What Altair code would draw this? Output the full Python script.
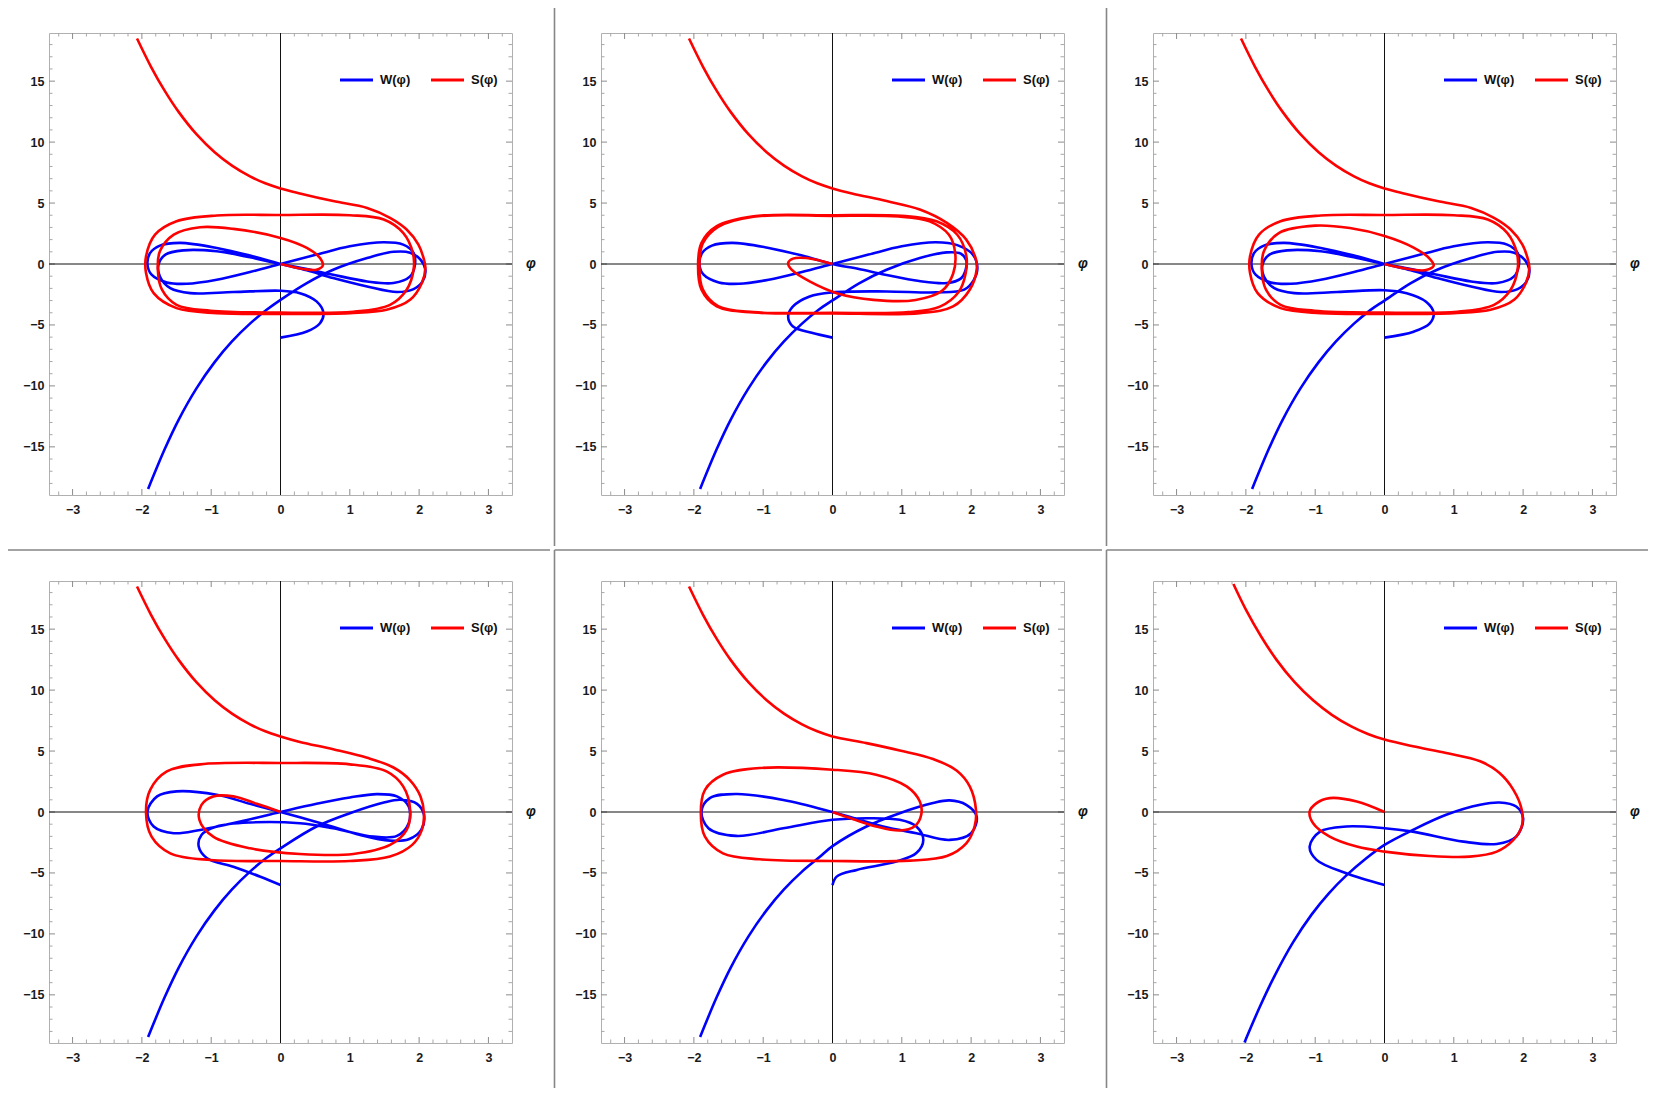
import altair as alt
import pandas as pd

# ---------------- data ----------------
TAIL_S_X = [-2.07, -1.87, -1.67, -1.47, -1.21, -0.95, -0.70, -0.44, -0.22, 0.0]
TAIL_S_Y = [18.5, 16.2, 14.2, 12.48, 10.63, 9.17, 8.07, 7.19, 6.62, 6.2]
TAIL_W_X = [-1.91, -1.67, -1.47, -1.21, -0.95, -0.70, -0.44, -0.2]
TAIL_W_Y = [-18.45, -15.18, -12.78, -10.18, -8.05, -6.35, -4.89, -3.76]

P1_SX = [0.28, 0.76, 1.25, 1.58, 1.82, 1.99, 2.07, 2.09, 2.04, 1.87, 1.53, 1.0, 0.0, -0.92, -1.5, -1.83, -1.94, -1.94, -1.81, -1.5,
         -0.92, 0.0, 1.0, 1.49, 1.77, 1.91, 1.92, 1.82, 1.58, 1.05, 0.0, -1.01, -1.5, -1.71, -1.77, -1.74, -1.54, -1.16, -0.68, 0.0,
         0.38, 0.57, 0.61, 0.52, 0.33, 0.14, 0.0]
P1_SY = [5.79, 5.16, 4.6, 3.79, 2.83, 1.59, 0.36, -0.33, -1.56, -2.94, -3.76, -4.03, -4.09, -4.03, -3.62, -2.39, -0.74, 0.63, 2.41, 3.51,
         3.98, 4.02, 4.0, 3.65, 2.55, 0.9, -0.47, -2.11, -3.35, -3.92, -3.98, -3.84, -3.35, -2.11, -0.47, 1.04, 2.41, 3.02, 2.88, 2.14,
         1.32, 0.49, -0.14, -0.47, -0.41, -0.19, 0.0]
P1_WX = [0.0, 0.38, 0.76, 1.25, 1.63, 1.87, 2.02, 2.09, 2.05, 1.92, 1.68, 1.25, 0.76, 0.38, 0.0, -0.44, -0.92, -1.45, -1.74, -1.88,
         -1.92, -1.86, -1.64, -1.35, -0.92, -0.44, 0.0, 0.52, 1.0, 1.49, 1.77, 1.92, 1.94, 1.87, 1.63, 1.25, 0.76, 0.38, 0.0, -0.44,
         -0.92, -1.4, -1.66, -1.76, -1.74, -1.59, -1.3, -0.68, 0.0, 0.28, 0.52, 0.62, 0.57, 0.38, 0.0]
P1_WY = [-2.94, -1.56, -0.47, 0.49, 1.0, 0.93, 0.36, -0.47, -1.43, -2.06, -2.3, -1.84, -1.15, -0.52, 0.0, 0.69, 1.32, 1.73, 1.51, 0.91,
         0.0, -0.88, -1.51, -1.62, -1.29, -0.66, 0.0, 0.77, 1.45, 1.78, 1.59, 0.91, -0.05, -1.02, -1.56, -1.43, -0.88, -0.41, 0.0, 0.55,
         1.04, 1.12, 0.77, -0.05, -1.02, -1.98, -2.39, -2.3, -2.19, -2.39, -3.07, -4.03, -4.86, -5.54, -6.04]

P2_SX = [0.28, 0.78, 1.26, 1.65, 1.93, 2.07, 2.08, 1.98, 1.74, 1.26, 0.0, -1.14, -1.67, -1.89, -1.94, -1.89, -1.67, -1.14, 0.0, 1.0,
         1.5, 1.8, 1.93, 1.92, 1.82, 1.55, 1.1, 0.0, -1.14, -1.65, -1.87, -1.92, -1.87, -1.65, -1.14, 0.0, 0.95, 1.4, 1.68, 1.77,
         1.74, 1.58, 1.2, 0.59, 0.06, -0.33, -0.59, -0.64, -0.57, -0.38, -0.18, 0.0]
P2_SY = [5.79, 5.16, 4.47, 3.37, 2.0, 0.36, -0.47, -2.11, -3.48, -4.03, -4.05, -3.98, -3.48, -2.11, -0.19, 1.73, 3.1, 3.92, 4.0, 3.95,
         3.5, 2.4, 0.7, -0.8, -2.3, -3.5, -3.95, -4.0, -3.95, -3.45, -2.1, -0.2, 1.7, 3.05, 3.88, 3.95, 3.9, 3.5, 2.4, 0.9,
         -0.8, -2.2, -2.95, -2.94, -2.39, -1.43, -0.47, 0.08, 0.44, 0.49, 0.27, 0.0]
P2_WX = [0.0, 0.39, 0.78, 1.26, 1.65, 1.85, 1.93, 1.92, 1.85, 1.65, 1.25, 0.76, 0.38, 0.0, -0.44, -0.92, -1.45, -1.74, -1.88, -1.92,
         -1.86, -1.64, -1.35, -0.92, -0.44, 0.0, 0.52, 1.0, 1.49, 1.8, 2.02, 2.09, 2.04, 1.9, 1.5, 0.78, 0.0, -0.33, -0.57, -0.64,
         -0.57, -0.3, 0.0]
P2_WY = [-2.99, -1.56, -0.47, 0.49, 0.95, 0.85, 0.3, -0.5, -1.2, -1.56, -1.4, -0.88, -0.41, 0.0, 0.69, 1.32, 1.73, 1.51, 0.91, 0.0,
         -0.88, -1.51, -1.62, -1.29, -0.66, 0.0, 0.77, 1.45, 1.78, 1.55, 0.8, -0.3, -1.3, -2.1, -2.33, -2.25, -2.33, -2.66, -3.48, -4.3,
         -5.13, -5.65, -6.04]

P3_SX = [0.28, 0.76, 1.25, 1.58, 1.82, 1.99, 2.07, 2.09, 2.04, 1.87, 1.53, 1.0, 0.0, -0.92, -1.5, -1.83, -1.94, -1.94, -1.81, -1.5,
         -0.92, 0.0, 1.0, 1.49, 1.77, 1.91, 1.92, 1.82, 1.58, 1.05, 0.0, -1.01, -1.5, -1.71, -1.77, -1.74, -1.52, -1.0, -0.5, 0.0,
         0.42, 0.65, 0.71, 0.6, 0.38, 0.15, 0.0]
P3_SY = [5.79, 5.16, 4.6, 3.79, 2.83, 1.59, 0.36, -0.33, -1.56, -2.94, -3.76, -4.03, -4.09, -4.03, -3.62, -2.39, -0.74, 0.63, 2.41, 3.51,
         3.98, 4.02, 4.0, 3.65, 2.55, 0.9, -0.47, -2.11, -3.35, -3.92, -3.98, -3.84, -3.35, -2.11, -0.47, 1.04, 2.55, 3.15, 2.95, 2.3,
         1.35, 0.45, -0.14, -0.5, -0.45, -0.2, 0.0]
P3_WX = [0.0, 0.38, 0.76, 1.25, 1.63, 1.87, 2.02, 2.09, 2.05, 1.92, 1.68, 1.25, 0.76, 0.38, 0.0, -0.44, -0.92, -1.45, -1.74, -1.88,
         -1.92, -1.86, -1.64, -1.35, -0.92, -0.44, 0.0, 0.52, 1.0, 1.49, 1.77, 1.92, 1.94, 1.87, 1.63, 1.25, 0.76, 0.38, 0.0, -0.44,
         -0.92, -1.4, -1.66, -1.76, -1.74, -1.59, -1.3, -0.68, 0.0, 0.32, 0.6, 0.71, 0.65, 0.42, 0.0]
P3_WY = [-3.0, -1.56, -0.47, 0.49, 1.0, 0.93, 0.36, -0.47, -1.43, -2.06, -2.3, -1.84, -1.15, -0.52, 0.0, 0.69, 1.32, 1.73, 1.51, 0.91,
         0.0, -0.88, -1.51, -1.62, -1.29, -0.66, 0.0, 0.77, 1.45, 1.78, 1.59, 0.91, -0.05, -1.02, -1.56, -1.43, -0.88, -0.41, 0.0, 0.55,
         1.04, 1.12, 0.77, -0.05, -1.02, -1.98, -2.39, -2.3, -2.15, -2.4, -3.1, -4.03, -4.9, -5.55, -6.04]

P4_SX = [0.28, 0.76, 1.25, 1.63, 1.87, 2.02, 2.07, 2.04, 1.9, 1.58, 1.0, 0.0, -1.01, -1.59, -1.86, -1.94, -1.88, -1.64, -1.16, 0.0,
         1.0, 1.53, 1.77, 1.87, 1.82, 1.58, 1.05, 0.28, -0.44, -0.97, -1.17, -1.14, -0.97, -0.68, -0.34, 0.0]
P4_SY = [5.75, 5.15, 4.45, 3.65, 2.6, 1.28, -0.1, -1.47, -2.7, -3.66, -4.02, -4.02, -3.94, -3.39, -2.02, -0.1, 1.82, 3.33, 3.91, 4.02,
         3.91, 3.33, 2.1, 0.18, -1.47, -2.7, -3.44, -3.44, -2.98, -2.02, -0.64, 0.59, 1.28, 1.28, 0.67, 0.0]
P4_WX = [0.0, 0.52, 1.0, 1.49, 1.73, 1.97, 2.07, 2.03, 1.85, 1.58, 1.15, 0.67, 0.28, 0.0, -0.44, -0.92, -1.5, -1.78, -1.92, -1.83,
         -1.54, -1.16, -0.58, 0.0, 0.52, 1.0, 1.39, 1.68, 1.85, 1.85, 1.68, 1.34, 0.76, 0.28, -0.44, -0.92, -1.14, -1.18, -1.06, -0.68,
         -0.29, 0.0]
P4_WY = [-2.98, -1.19, -0.1, 0.78, 1.0, 0.67, -0.23, -1.47, -2.24, -2.35, -1.88, -1.06, -0.43, 0.0, 0.67, 1.41, 1.69, 1.28, 0.04, -1.19,
         -1.74, -1.47, -0.78, 0.0, 0.67, 1.19, 1.47, 1.28, 0.45, -0.92, -1.96, -2.02, -1.33, -0.92, -0.86, -1.19, -1.88, -2.84, -3.8, -4.49,
         -5.31, -5.99]

P5_SX = [0.49, 0.97, 1.45, 1.79, 1.98, 2.07, 2.05, 1.93, 1.65, 1.12, 0.0, -1.05, -1.58, -1.84, -1.9, -1.84, -1.58, -1.05, 0.0, 0.63,
         1.07, 1.26, 1.28, 1.19, 0.97, 0.63, 0.3, 0.0]
P5_SY = [5.65, 5.05, 4.35, 3.4, 2.1, 0.18, -1.19, -2.57, -3.61, -3.99, -4.02, -3.88, -3.39, -2.02, -0.1, 1.82, 3.06, 3.61, 3.47, 3.06,
         2.1, 0.86, -0.23, -1.14, -1.52, -1.19, -0.59, 0.0]
P5_WX = [0.0, 0.49, 0.97, 1.45, 1.69, 1.93, 2.08, 2.0, 1.69, 1.21, 0.73, 0.0, -0.71, -1.39, -1.77, -1.89, -1.79, -1.39, -0.71, 0.0,
         0.49, 0.97, 1.21, 1.31, 1.21, 0.92, 0.35, 0.06, 0.0]
P5_WY = [-2.8, -1.19, -0.1, 0.73, 0.95, 0.59, -0.37, -1.74, -2.29, -1.74, -1.19, 0.0, 0.99, 1.48, 1.14, 0.04, -1.33, -1.96, -1.33, -0.64,
         -0.51, -0.64, -1.19, -2.29, -3.37, -4.07, -4.75, -5.3, -6.0]

P6_TAIL_SX = [-2.18, -2.0, -1.78, -1.56, -1.3, -1.03, -0.76, -0.48, -0.24, 0.0]
P6_TAIL_SY = [18.7, 16.6, 14.4, 12.5, 10.67, 9.16, 7.97, 7.02, 6.4, 5.94]
P6_SX = [0.41, 0.89, 1.38, 1.66, 1.86, 1.98, 1.98, 1.86, 1.62, 1.23, 0.65, 0.0, -0.4, -0.79, -1.03, -1.08, -0.98, -0.79, -0.4, 0.0]
P6_SY = [5.39, 4.84, 4.16, 3.2, 1.82, 0.18, -1.19, -2.29, -3.25, -3.66, -3.61, -3.25, -2.84, -2.02, -0.92, 0.04, 0.73, 1.14, 0.86, 0.0]
P6_TAIL_WX = [-2.02, -1.8, -1.58, -1.32, -1.05, -0.8, -0.55, -0.28]
P6_TAIL_WY = [-18.9, -16.0, -13.38, -10.7, -8.4, -6.65, -5.2, -3.88]
P6_WX = [0.0, 0.41, 0.89, 1.38, 1.66, 1.9, 2.0, 1.9, 1.62, 1.14, 0.41, 0.0, -0.55, -0.93, -1.08, -0.98, -0.55, 0.0]
P6_WY = [-2.7, -1.47, -0.23, 0.59, 0.78, 0.45, -0.51, -2.02, -2.62, -2.43, -1.61, -1.33, -1.19, -1.61, -2.84, -3.93, -5.03, -5.99]

X_MAJOR = [-3, -2, -1, 0, 1, 2, 3]
X_MINOR = [-3.2, -2.8, -2.6, -2.4, -2.2, -1.8, -1.6, -1.4, -1.2, -0.8, -0.6, -0.4, -0.2,
           0.2, 0.4, 0.6, 0.8, 1.2, 1.4, 1.6, 1.8, 2.2, 2.4, 2.6, 2.8, 3.2]
Y_MAJOR = [-15, -10, -5, 0, 5, 10, 15]
Y_MINOR = [-18, -17, -16, -14, -13, -12, -11, -9, -8, -7, -6, -4, -3, -2, -1,
           1, 2, 3, 4, 6, 7, 8, 9, 11, 12, 13, 14, 16, 17, 18]

LEGEND_LABELS = ["W(φ)", "S(φ)"]
# ----------------------------------------------------------------

W, H = 463, 462
XDOM = [-3.34, 3.34]
YDOM = [-18.95, 18.95]
BLUE, RED = "#0000ff", "#ff0000"
FONT = "Liberation Sans"
TICK_MAJ, TICK_MIN = "#8c8c8c", "#a8a8a8"
CELL_L, CELL_R, CELL_T, CELL_B = -48, 502.5, -32.5, 514.5


def panel(wx, wy, sx, sy):
    xs = alt.Scale(domain=XDOM, nice=False, zero=False)
    ys = alt.Scale(domain=YDOM, nice=False, zero=False)
    ax = alt.Axis(values=X_MAJOR, ticks=False, tickSize=0, domain=False, grid=False, labelFont=FONT,
                  labelFontSize=12.5, labelFontWeight="bold", labelColor="#1a1a1a", labelPadding=8, title=None)
    ay = alt.Axis(values=Y_MAJOR, ticks=False, tickSize=0, domain=False, grid=False, labelFont=FONT,
                  labelFontSize=12.5, labelFontWeight="bold", labelColor="#1a1a1a", labelPadding=5, title=None)

    def X():
        return alt.X("x:Q", scale=xs, axis=ax)

    def Y():
        return alt.Y("y:Q", scale=ys, axis=ay)

    one = pd.DataFrame({"a": [0]})
    layers = []
    # invisible cell box (sets the cell size) + visible left / top dividers
    layers.append(alt.Chart(one).mark_rect(fillOpacity=0, strokeOpacity=0).encode(
        x=alt.value(CELL_L), x2=alt.value(CELL_R), y=alt.value(CELL_T), y2=alt.value(CELL_B)))
    layers.append(alt.Chart(one).mark_rule(color="#858585", strokeWidth=1.6).encode(
        x=alt.value(CELL_L + 1.5), y=alt.value(CELL_T + 1.5), y2=alt.value(CELL_B - 1.5)))
    layers.append(alt.Chart(one).mark_rule(color="#858585", strokeWidth=1.6).encode(
        x=alt.value(CELL_L + 1.5), x2=alt.value(CELL_R - 1.5), y=alt.value(CELL_T + 1.5)))
    # frame ticks
    for vals, L, col in [(X_MAJOR, 6, TICK_MAJ), (X_MINOR, 3.5, TICK_MIN)]:
        d = pd.DataFrame({"x": vals})
        layers.append(alt.Chart(d).mark_rule(color=col, strokeWidth=1).encode(
            x=X(), y=alt.value(H), y2=alt.value(H - L)))
        layers.append(alt.Chart(d).mark_rule(color=col, strokeWidth=1).encode(
            x=X(), y=alt.value(0), y2=alt.value(L)))
    for vals, L, col in [(Y_MAJOR, 6, TICK_MAJ), (Y_MINOR, 3.5, TICK_MIN)]:
        d = pd.DataFrame({"y": vals})
        layers.append(alt.Chart(d).mark_rule(color=col, strokeWidth=1).encode(
            y=Y(), x=alt.value(0), x2=alt.value(L)))
        layers.append(alt.Chart(d).mark_rule(color=col, strokeWidth=1).encode(
            y=Y(), x=alt.value(W), x2=alt.value(W - L)))
    # axes through origin
    layers.append(alt.Chart(pd.DataFrame({"x": [0.0]})).mark_rule(color="#111111", strokeWidth=1).encode(x=X()))
    layers.append(alt.Chart(pd.DataFrame({"y": [0.0]})).mark_rule(color="#111111", strokeWidth=1).encode(y=Y()))
    # curves
    dfw = pd.DataFrame({"x": wx, "y": wy, "i": list(range(len(wx)))})
    dfs = pd.DataFrame({"x": sx, "y": sy, "i": list(range(len(sx)))})
    layers.append(alt.Chart(dfw).mark_line(color=BLUE, strokeWidth=2.6, interpolate="catmull-rom", clip=True).encode(
        x=X(), y=Y(), order=alt.Order("i:Q")))
    layers.append(alt.Chart(dfs).mark_line(color=RED, strokeWidth=2.6, interpolate="catmull-rom", clip=True).encode(
        x=X(), y=Y(), order=alt.Order("i:Q")))
    # phi axis label
    layers.append(alt.Chart(pd.DataFrame({"y": [0.0]})).mark_text(
        text="φ", font=FONT, fontSize=14, fontWeight="bold", fontStyle="italic", color="#111111",
        align="center", baseline="middle").encode(y=Y(), x=alt.value(482)))
    # legend
    for x0, col, lab in [(291, BLUE, LEGEND_LABELS[0]), (382, RED, LEGEND_LABELS[1])]:
        layers.append(alt.Chart(one).mark_rule(color=col, strokeWidth=3).encode(
            x=alt.value(x0), x2=alt.value(x0 + 33), y=alt.value(47)))
        layers.append(alt.Chart(one).mark_text(
            font=FONT, fontSize=13, fontWeight="bold", color="#111111", align="left", baseline="middle").encode(
            x=alt.value(x0 + 40), y=alt.value(47), text=alt.value(lab)))
    return alt.layer(*layers).properties(width=W, height=H)


p1 = panel(TAIL_W_X + P1_WX, TAIL_W_Y + P1_WY, TAIL_S_X + P1_SX, TAIL_S_Y + P1_SY)
p2 = panel(TAIL_W_X + P2_WX, TAIL_W_Y + P2_WY, TAIL_S_X + P2_SX, TAIL_S_Y + P2_SY)
p3 = panel(TAIL_W_X + P3_WX, TAIL_W_Y + P3_WY, TAIL_S_X + P3_SX, TAIL_S_Y + P3_SY)
p4 = panel(TAIL_W_X + P4_WX, TAIL_W_Y + P4_WY, TAIL_S_X + P4_SX, TAIL_S_Y + P4_SY)
p5 = panel(TAIL_W_X + P5_WX, TAIL_W_Y + P5_WY, TAIL_S_X + P5_SX, TAIL_S_Y + P5_SY)
p6 = panel(P6_TAIL_WX + P6_WX, P6_TAIL_WY + P6_WY, P6_TAIL_SX + P6_SX, P6_TAIL_SY + P6_SY)

chart = alt.vconcat(
    alt.hconcat(p1, p2, p3, spacing=0),
    alt.hconcat(p4, p5, p6, spacing=0),
    spacing=0,
).properties(
    padding={"left": -8, "top": -8, "right": -8, "bottom": -8},
    background="white",
).configure_view(stroke="#b0b0b0", strokeWidth=1)

chart.save("out.html", embed_options={"renderer": "svg", "actions": False})
